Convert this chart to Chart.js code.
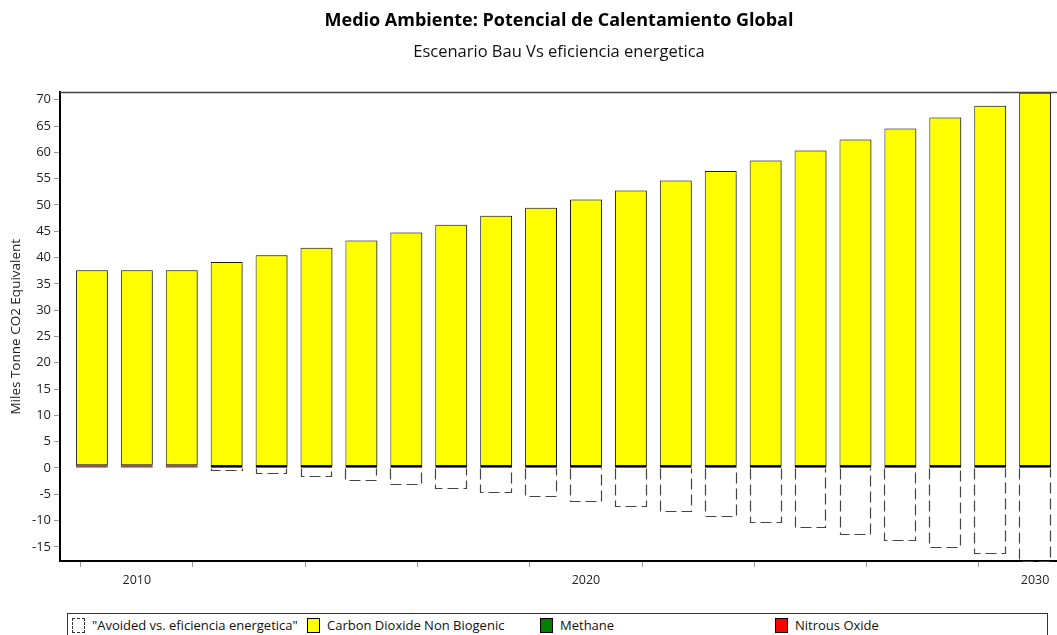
<!DOCTYPE html>
<html>
<head>
<meta charset="utf-8">
<script src="https://cdn.jsdelivr.net/npm/chart.js@4/dist/chart.umd.min.js"></script>
<style>
	body { margin: 0; background: #fff; font-family: "Open Sans", "Noto Sans", sans-serif; }
	#wrap { position: relative; width: 1057px; height: 635px; overflow: hidden; }
	#box { position: absolute; left: 0; top: 0; width: 1118px; height: 602px; }
	#legend { position: absolute; left: 67px; top: 613px; width: 979px; height: 26px; border: 1px solid #333; }
	.item { position: absolute; top: 4px; font-size: 13px; color: #111; line-height: 15px; white-space: nowrap; }
	.sw { display: inline-block; width: 11px; height: 13px; border: 1px solid #000; vertical-align: -3px; margin-right: 7px; }
</style>
</head>
<body>
<div id="wrap">
	<div id="box"><canvas id="cntx_gwp"></canvas></div>
	<div id="legend"></div>
</div>
<script>
const years = [2009, 2010, 2011, 2012, 2013, 2014, 2015, 2016, 2017, 2018, 2019, 2020, 2021, 2022, 2023, 2024, 2025, 2026, 2027, 2028, 2029, 2030];
const avoided = [0, 0, 0, -0.5, -1.1, -1.8, -2.5, -3.2, -4.0, -4.8, -5.6, -6.5, -7.4, -8.4, -9.3, -10.4, -11.5, -12.7, -13.9, -15.2, -16.4, -17.8];
const co2 = [37.1, 37.1, 37.1, 38.8, 40.1, 41.5, 42.9, 44.4, 45.9, 47.6, 49.1, 50.7, 52.4, 54.3, 56.1, 58.1, 60.0, 62.1, 64.2, 66.3, 68.5, 71.0];
const methane = [0.3, 0.3, 0.3, 0.3, 0.3, 0.3, 0.3, 0.3, 0.3, 0.3, 0.3, 0.3, 0.3, 0.3, 0.3, 0.3, 0.3, 0.3, 0.3, 0.3, 0.3, 0.3];
const nitrous = [0.2, 0.2, 0.2, 0.05, 0.05, 0.05, 0.05, 0.05, 0.05, 0.05, 0.05, 0.05, 0.05, 0.05, 0.05, 0.05, 0.05, 0.05, 0.05, 0.05, 0.05, 0.05];
const labeledYears = [2010, 2020, 2030];

const font = "'Open Sans', 'Noto Sans', sans-serif";
const pts = (vals) => years.map((y, i) => ({ x: y, y: vals[i] }));

// soft shadow to the right of the yellow bars
const barShadow = {
	id: "barShadow",
	beforeDatasetDraw(chart, args) {
		if (args.index !== 2) return;
		const ctx = chart.ctx;
		ctx.save();
		ctx.shadowColor = "rgba(0,0,0,0.3)";
		ctx.shadowOffsetX = 2;
		ctx.shadowOffsetY = 0;
		ctx.shadowBlur = 1;
	},
	afterDatasetDraw(chart, args) {
		if (args.index !== 2) return;
		chart.ctx.restore();
	},
};

// dashed outline for the "avoided" bars (bar elements cannot dash their border)
const dashedBars = {
	id: "dashedBars",
	afterDatasetsDraw(chart) {
		const ctx = chart.ctx;
		const area = chart.chartArea;
		ctx.save();
		ctx.beginPath();
		ctx.rect(area.left, area.top, area.right - area.left, area.bottom - area.top + 1);
		ctx.clip();
		ctx.strokeStyle = "#444";
		ctx.lineWidth = 1.2;
		ctx.setLineDash([11, 5]);
		chart.getDatasetMeta(3).data.forEach((el) => {
			const p = el.getProps(["x", "y", "base", "width"], true);
			const h = Math.abs(p.base - p.y);
			if (h < 0.5) return;
			const left = Math.round(p.x - p.width / 2) + 0.5;
			const right = Math.round(p.x + p.width / 2) - 0.5;
			const top = Math.round(Math.min(p.y, p.base)) + 0.5;
			const bottom = Math.round(Math.max(p.y, p.base)) - 0.5;
			ctx.beginPath();
			ctx.moveTo(left, top);
			ctx.lineTo(left, bottom);
			ctx.lineTo(right, bottom);
			ctx.lineTo(right, top);
			ctx.stroke();
		});
		ctx.restore();
		// top frame line
		ctx.save();
		ctx.strokeStyle = "#444";
		ctx.lineWidth = 1.5;
		ctx.beginPath();
		ctx.moveTo(area.left, area.top);
		ctx.lineTo(area.right, area.top);
		ctx.stroke();
		ctx.restore();
	},
};

drawChart = (canvas) => {
	return new Chart(canvas, {
		type: "bar",
		data: {
			datasets: [
				{ label: "Nitrous Oxide", data: pts(nitrous), backgroundColor: "#ff0000", borderWidth: 0 },
				{ label: "Methane", data: pts(methane), backgroundColor: "#008000", borderColor: "#000", borderWidth: 1, borderSkipped: false },
				{ label: "Carbon Dioxide Non Biogenic", data: pts(co2), backgroundColor: "#ffff00", borderColor: "#1a1a1a", borderWidth: 1, borderSkipped: false },
				{ label: "\"Avoided vs. eficiencia energetica\"", data: pts(avoided), backgroundColor: "rgba(0,0,0,0)", borderWidth: 0 },
			],
		},
		options: {
			responsive: true,
			maintainAspectRatio: false,
			animation: false,
			layout: { padding: 0 },
			datasets: { bar: { categoryPercentage: 1, barPercentage: 0.71 } },
			plugins: {
				legend: { display: false },
				tooltip: { enabled: false },
				title: {
					display: true,
					text: "Medio Ambiente: Potencial de Calentamiento Global",
					color: "#000",
					font: { family: font, size: 18, weight: "bold", lineHeight: 1.2 },
					padding: { top: 10, bottom: 11 },
				},
				subtitle: {
					display: true,
					text: "Escenario Bau Vs eficiencia energetica",
					color: "#111",
					font: { family: font, size: 16.5, lineHeight: 1.2 },
					padding: { top: 0, bottom: 30 },
				},
			},
			scales: {
				x: {
					type: "linear",
					stacked: true,
					min: 2008.29,
					max: 2030.71,
					offset: false,
					afterFit: (s) => { s.height = 41; },
					grid: { display: true, drawOnChartArea: false, drawTicks: true, tickLength: 6, color: "#999" },
					border: { display: true, color: "#000", width: 2 },
					ticks: {
						stepSize: 2.5,
						includeBounds: false,
						autoSkip: false,
						maxRotation: 0,
						padding: 6,
						color: "#222",
						font: { family: font, size: 12.5 },
						callback: (v) => (labeledYears.includes(v) ? String(v) : ""),
					},
				},
				y: {
					stacked: true,
					min: -17.7,
					max: 71.4,
					afterFit: (s) => { s.width = 60; },
					grid: { display: true, drawOnChartArea: false, drawTicks: true, tickLength: 6, color: "#999" },
					border: { display: true, color: "#000", width: 2 },
					title: {
						display: true,
						text: "Miles Tonne CO2 Equivalent",
						color: "#222",
						font: { family: font, size: 13.5 },
						padding: { top: 8, bottom: 0 },
					},
					ticks: {
						stepSize: 5,
						includeBounds: false,
						padding: 3,
						color: "#222",
						font: { family: font, size: 13 },
					},
				},
				// empty right-hand axis: the plot runs past the cropped right edge
				yRight: {
					position: "right",
					display: true,
					afterFit: (s) => { s.width = 51; },
					grid: { display: false },
					border: { display: false },
					ticks: { display: false },
				},
			},
		},
		plugins: [barShadow, dashedBars],
	});
};

drawChart(document.querySelector("#cntx_gwp"));

// legend below the plot
const legendItems = [
	{ text: "\"Avoided vs. eficiencia energetica\"", color: "transparent", dashed: true, left: 4 },
	{ text: "Carbon Dioxide Non Biogenic", color: "#ffff00", left: 239 },
	{ text: "Methane", color: "#008000", left: 472 },
	{ text: "Nitrous Oxide", color: "#ff0000", left: 707 },
];
const legend = document.querySelector("#legend");
legendItems.forEach((it) => {
	const d = document.createElement("div");
	d.className = "item";
	d.style.left = it.left + "px";
	const sw = document.createElement("span");
	sw.className = "sw";
	sw.style.background = it.color;
	if (it.dashed) sw.style.border = "1px dashed #333";
	d.appendChild(sw);
	d.appendChild(document.createTextNode(it.text));
	legend.appendChild(d);
});
</script>
</body>
</html>
